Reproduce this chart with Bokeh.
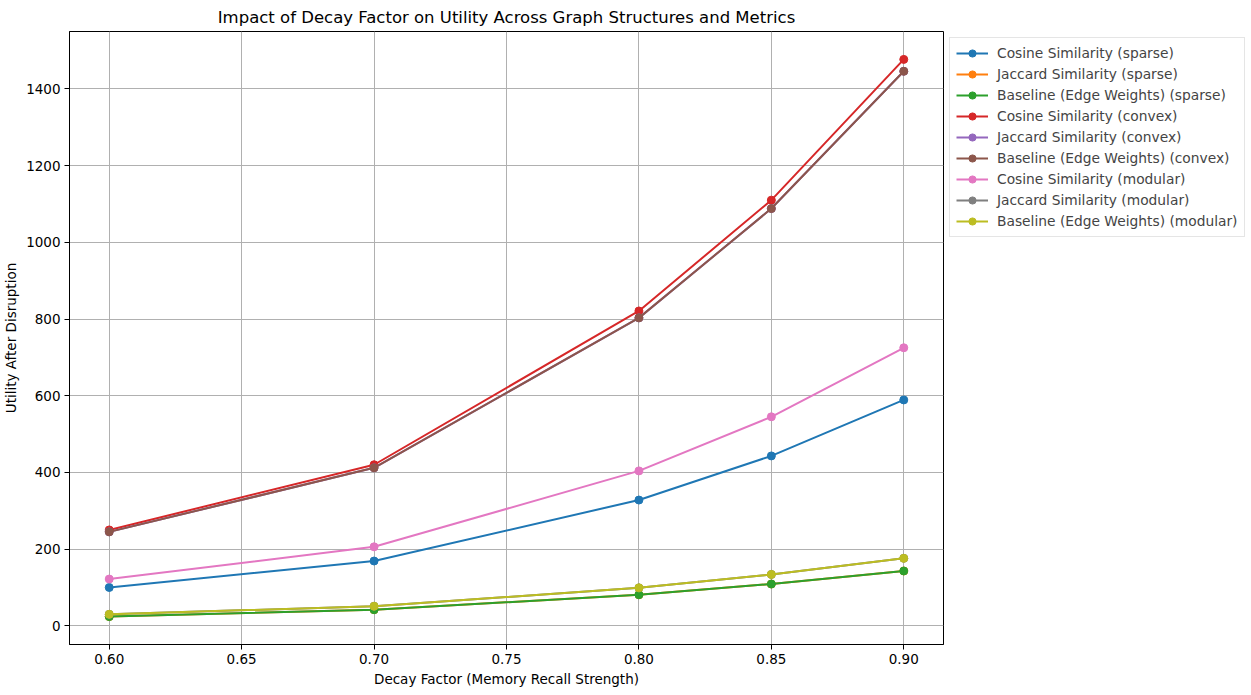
from bokeh.plotting import figure
from bokeh.models import Legend, LegendItem, FixedTicker, PrintfTickFormatter, Range1d
from bokeh.embed import file_html
from bokeh.resources import INLINE

decay = [0.60, 0.70, 0.80, 0.85, 0.90]
x_ticks = [0.60, 0.65, 0.70, 0.75, 0.80, 0.85, 0.90]
y_ticks = [0, 200, 400, 600, 800, 1000, 1200, 1400]

cos_sparse = [100, 169, 328, 443, 589]
jac_sparse = [24, 42, 81, 109, 143]
base_sparse = [24, 42, 81, 109, 143]
cos_convex = [250, 420, 821, 1110, 1477]
jac_convex = [245, 412, 803, 1088, 1446]
base_convex = [245, 412, 803, 1088, 1446]
cos_modular = [122, 206, 404, 545, 725]
jac_modular = [30, 51, 99, 134, 176]
base_modular = [30, 51, 99, 134, 176]

series = [
    ("Cosine Similarity (sparse)", cos_sparse, "#1f77b4"),
    ("Jaccard Similarity (sparse)", jac_sparse, "#ff7f0e"),
    ("Baseline (Edge Weights) (sparse)", base_sparse, "#2ca02c"),
    ("Cosine Similarity (convex)", cos_convex, "#d62728"),
    ("Jaccard Similarity (convex)", jac_convex, "#9467bd"),
    ("Baseline (Edge Weights) (convex)", base_convex, "#8c564b"),
    ("Cosine Similarity (modular)", cos_modular, "#e377c2"),
    ("Jaccard Similarity (modular)", jac_modular, "#7f7f7f"),
    ("Baseline (Edge Weights) (modular)", base_modular, "#bcbd22"),
]

FONT = "DejaVu Sans"

p = figure(frame_width=874, frame_height=613, output_backend="svg", toolbar_location=None,
           title="Impact of Decay Factor on Utility Across Graph Structures and Metrics",
           x_range=Range1d(0.585, 0.915), y_range=Range1d(-48.7, 1549.7),
           min_border_left=50, min_border_top=10, min_border_bottom=5, min_border_right=0)

p.title.align = "center"
p.title.text_font = FONT
p.title.text_font_size = "16.5px"
p.title.text_font_style = "normal"
p.title.text_color = "black"

items = []
for name, vals, col in series:
    r1 = p.line(decay, vals, line_color=col, line_width=2)
    r2 = p.scatter(decay, vals, size=8, fill_color=col, line_color=col)
    items.append(LegendItem(label=name, renderers=[r1, r2]))

p.xaxis.ticker = FixedTicker(ticks=x_ticks)
p.xaxis.formatter = PrintfTickFormatter(format="%.2f")
p.yaxis.ticker = FixedTicker(ticks=y_ticks)
p.xaxis.axis_label = "Decay Factor (Memory Recall Strength)"
p.yaxis.axis_label = "Utility After Disruption"

for ax in [p.xaxis[0], p.yaxis[0]]:
    ax.axis_label_text_font = FONT
    ax.axis_label_text_font_size = "13.5px"
    ax.axis_label_text_font_style = "normal"
    ax.axis_label_text_color = "black"
    ax.major_label_text_font = FONT
    ax.major_label_text_font_size = "13.5px"
    ax.major_label_text_color = "black"
    ax.major_tick_out = 5
    ax.major_tick_in = 0
    ax.minor_tick_line_color = None
    ax.axis_line_color = "black"
    ax.major_tick_line_color = "black"
    ax.major_label_standoff = 4
    ax.axis_label_standoff = 4

p.xgrid.grid_line_color = "#b0b0b0"
p.ygrid.grid_line_color = "#b0b0b0"
p.xgrid.grid_line_width = 1
p.ygrid.grid_line_width = 1
p.outline_line_color = "black"
p.outline_line_width = 1
p.outline_line_alpha = 1

legend = Legend(items=items, location="top_left")
legend.label_text_font = FONT
legend.label_text_font_size = "13.8px"
legend.label_height = 18
legend.glyph_height = 18
legend.glyph_width = 32
legend.spacing = 3
legend.padding = 6
legend.label_standoff = 9
legend.margin = 6
legend.border_line_color = "#cccccc"
legend.border_line_width = 1
legend.background_fill_alpha = 0.8
p.add_layout(legend, "right")

open("out.html", "w").write(file_html(p, INLINE))
